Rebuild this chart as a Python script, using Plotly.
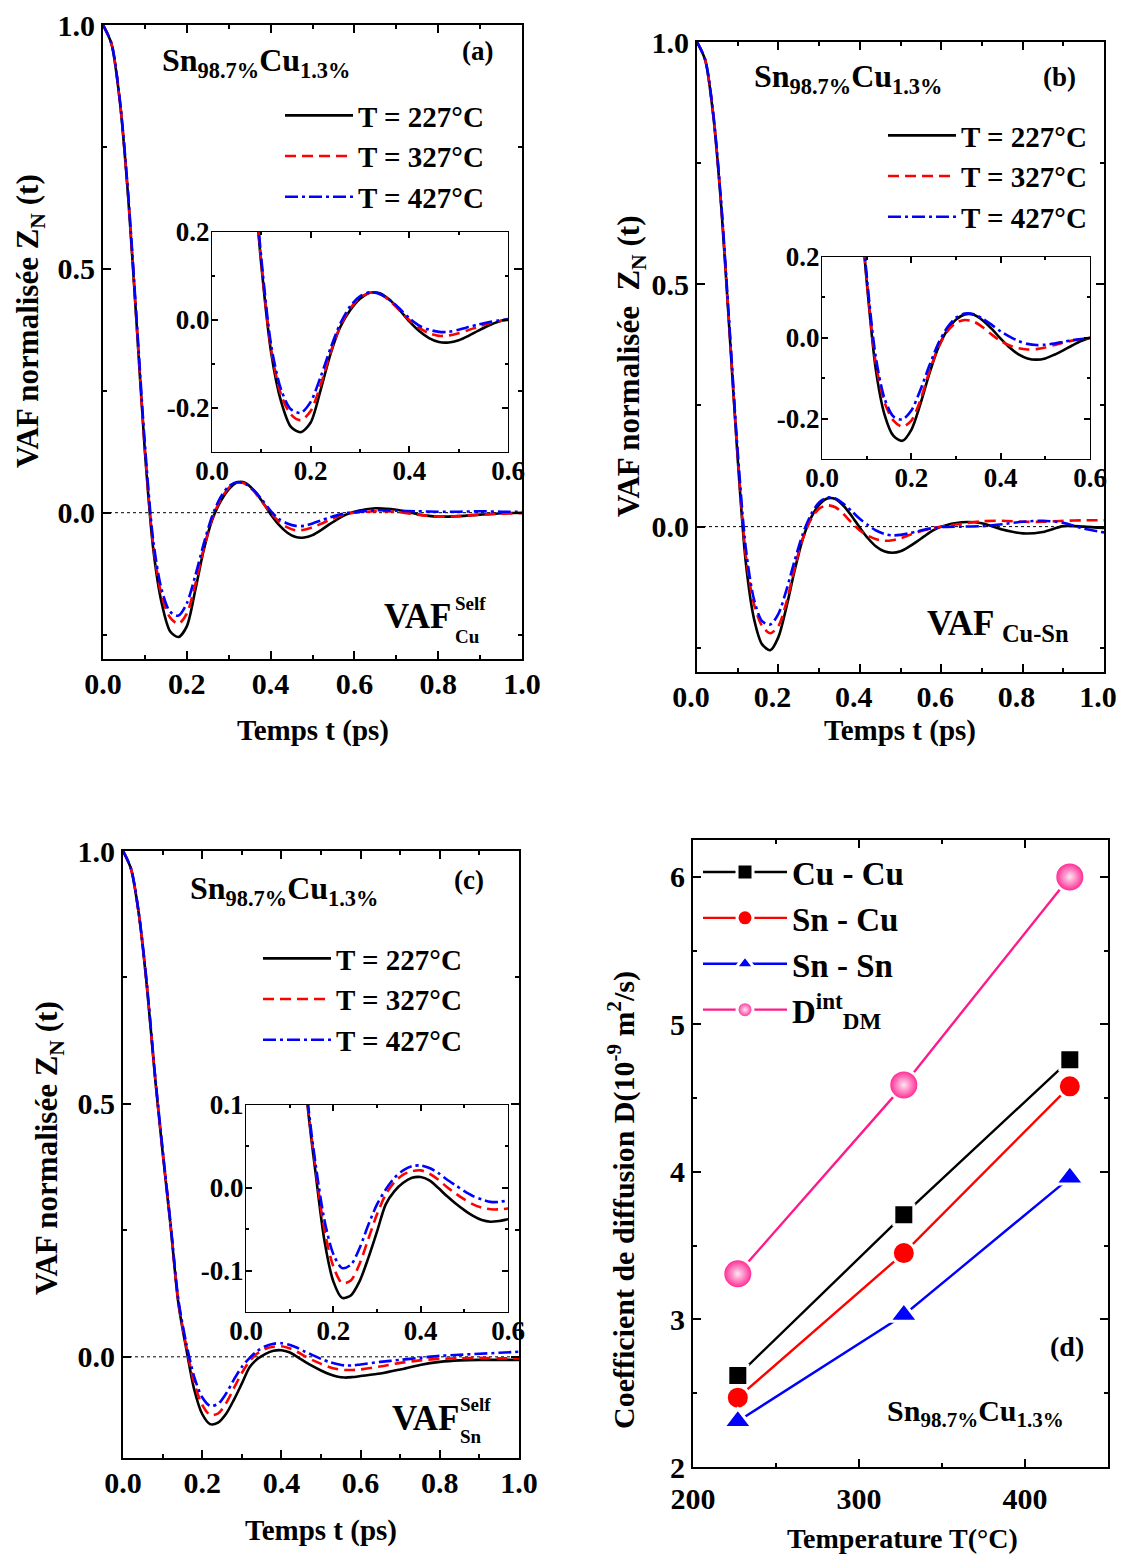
import plotly.graph_objects as go

OFF = 8                      # default page margin of the html body
W, H = 1125 - 2 * OFF, 1562 - 2 * OFF
FONT = "Liberation Serif"

# ---------------- data ----------------
TIME = [0.00, 0.02, 0.04, 0.06, 0.08, 0.10, 0.12, 0.14, 0.16, 0.18, 0.20, 0.22, 0.24, 0.26, 0.28,
        0.30, 0.32, 0.34, 0.36, 0.38, 0.40, 0.42, 0.44, 0.46, 0.48, 0.50, 0.52, 0.54, 0.56, 0.58,
        0.60, 0.65, 0.70, 0.75, 0.80, 0.85, 0.90, 0.95, 1.00]

# (a) VAF self Cu
A_227 = [1.0, 0.962, 0.845, 0.648, 0.39, 0.125, -0.075, -0.185, -0.243, -0.255, -0.233, -0.160, -0.078, -0.016, 0.022,
         0.048, 0.062, 0.061, 0.046, 0.023, -0.003, -0.025, -0.041, -0.050, -0.051, -0.046, -0.036, -0.024, -0.013, -0.004,
         0.002, 0.009, 0.006, -0.003, -0.008, -0.007, -0.004, -0.001, 0.0]
A_327 = [1.0, 0.962, 0.846, 0.650, 0.392, 0.13, -0.068, -0.170, -0.215, -0.228, -0.207, -0.148, -0.075, -0.014, 0.026,
         0.051, 0.062, 0.059, 0.044, 0.022, 0.0, -0.018, -0.030, -0.036, -0.035, -0.030, -0.023, -0.015, -0.008, -0.003,
         0.0, 0.003, 0.002, -0.004, -0.008, -0.007, -0.004, -0.002, -0.001]
A_427 = [1.0, 0.963, 0.848, 0.655, 0.40, 0.14, -0.058, -0.158, -0.203, -0.211, -0.186, -0.130, -0.065, -0.008, 0.031,
         0.054, 0.063, 0.059, 0.046, 0.026, 0.004, -0.013, -0.022, -0.027, -0.027, -0.022, -0.016, -0.010, -0.005, -0.001,
         0.001, 0.005, 0.004, 0.003, 0.002, 0.002, 0.003, 0.002, 0.002]

# (b) VAF Cu-Sn
B_227 = [1.0, 0.963, 0.848, 0.655, 0.40, 0.14, -0.075, -0.190, -0.243, -0.255, -0.228, -0.165, -0.090, -0.025, 0.018,
         0.045, 0.058, 0.057, 0.043, 0.022, -0.002, -0.024, -0.041, -0.051, -0.054, -0.051, -0.042, -0.031, -0.019, -0.008,
         0.0, 0.009, 0.007, -0.006, -0.014, -0.011, 0.001, 0.0, -0.003]
B_327 = [1.0, 0.963, 0.849, 0.658, 0.405, 0.145, -0.060, -0.160, -0.205, -0.220, -0.205, -0.155, -0.085, -0.025, 0.015,
         0.037, 0.044, 0.040, 0.026, 0.008, -0.008, -0.019, -0.026, -0.029, -0.028, -0.024, -0.018, -0.012, -0.007, -0.003,
         0.0, 0.006, 0.011, 0.012, 0.010, 0.010, 0.012, 0.013, 0.013]
B_427 = [1.0, 0.964, 0.852, 0.662, 0.41, 0.155, -0.045, -0.150, -0.195, -0.202, -0.180, -0.130, -0.070, -0.015, 0.025,
         0.050, 0.060, 0.058, 0.047, 0.032, 0.016, 0.003, -0.008, -0.015, -0.018, -0.017, -0.014, -0.010, -0.006, -0.003,
         -0.001, 0.0, 0.001, 0.005, 0.010, 0.012, 0.008, -0.004, -0.012]

# (c) VAF self Sn
C_227 = [1.0, 0.965, 0.875, 0.735, 0.56, 0.405, 0.26, 0.105, 0.015, -0.065, -0.113, -0.133, -0.130, -0.113, -0.085,
         -0.053, -0.020, -0.004, 0.006, 0.012, 0.013, 0.009, 0.0, -0.010, -0.019, -0.027, -0.034, -0.039, -0.041, -0.040,
         -0.038, -0.033, -0.025, -0.016, -0.010, -0.007, -0.006, -0.006, -0.006]
C_327 = [1.0, 0.965, 0.876, 0.737, 0.562, 0.407, 0.262, 0.108, 0.020, -0.052, -0.095, -0.115, -0.112, -0.092, -0.062,
         -0.032, -0.008, 0.007, 0.016, 0.020, 0.021, 0.017, 0.010, 0.001, -0.007, -0.014, -0.020, -0.024, -0.026, -0.026,
         -0.025, -0.019, -0.012, -0.007, -0.004, -0.003, -0.002, -0.003, -0.003]
C_427 = [1.0, 0.966, 0.877, 0.739, 0.565, 0.41, 0.265, 0.112, 0.026, -0.040, -0.080, -0.097, -0.093, -0.073, -0.045,
         -0.020, -0.002, 0.012, 0.021, 0.026, 0.027, 0.024, 0.018, 0.010, 0.003, -0.004, -0.010, -0.014, -0.017, -0.017,
         -0.015, -0.010, -0.006, -0.002, 0.002, 0.004, 0.006, 0.008, 0.010]

SERIES_NAMES = ["T = 227°C", "T = 327°C", "T = 427°C"]

# (d) diffusion coefficients
TEMPS = [227, 327, 427]
D_CUCU = [2.62, 3.71, 4.76]
D_SNCU = [2.47, 3.45, 4.58]
D_SNSN = [2.31, 3.03, 3.96]
D_DM = [3.31, 4.59, 6.00]
D_NAMES = ["Cu - Cu", "Sn - Cu", "Sn - Sn", "D<sup>int</sup><sub>DM</sub>"]

# tick labels
MAIN_X_TV = [0.0, 0.2, 0.4, 0.6, 0.8, 1.0]
MAIN_X_TT = ["0.0", "0.2", "0.4", "0.6", "0.8", "1.0"]
MAIN_Y_TV = [0.0, 0.5, 1.0]
MAIN_Y_TT = ["0.0", "0.5", "1.0"]
INS_X_TV = [0.0, 0.2, 0.4, 0.6]
INS_X_TT = ["0.0", "0.2", "0.4", "0.6"]
INS_Y_TV = [-0.2, 0.0, 0.2]
INS_Y_TT = ["-0.2", "0.0", "0.2"]
INS_C_Y_TV = [-0.1, 0.0, 0.1]
INS_C_Y_TT = ["-0.1", "0.0", "0.1"]
D_X_TV = [200, 300, 400]
D_X_TT = ["200", "300", "400"]
D_Y_TV = [2, 3, 4, 5, 6]
D_Y_TT = ["2", "3", "4", "5", "6"]

# ---------------- helpers (screen px -> paper fraction) ----------------
def px(x):
    return (x - OFF) / W

def py(y):
    return 1 - (y - OFF) / H

def dx(a, b):
    return [px(a), px(b)]

def dy(top, bottom):
    return [py(bottom), py(top)]

COLORS = ["black", "#ff0000", "#0000ff"]
DASHES = ["solid", "11px,6px", "13px,4px,3px,4px"]

fig = go.Figure()

def add_vaf(series, xa, ya, legend, show):
    for i, ys in enumerate(series):
        fig.add_trace(go.Scatter(
            x=TIME, y=ys, mode="lines", name=SERIES_NAMES[i],
            line=dict(color=COLORS[i], width=2.6, dash=DASHES[i], shape="spline", smoothing=0.8),
            xaxis=xa, yaxis=ya, legend=legend, showlegend=show, hoverinfo="skip"))

add_vaf([A_227, A_327, A_427], "x", "y", "legend", True)
add_vaf([A_227, A_327, A_427], "x2", "y2", "legend", False)
add_vaf([B_227, B_327, B_427], "x3", "y3", "legend2", True)
add_vaf([B_227, B_327, B_427], "x4", "y4", "legend2", False)
add_vaf([C_227, C_327, C_427], "x5", "y5", "legend3", True)
add_vaf([C_227, C_327, C_427], "x6", "y6", "legend3", False)

# panel d
d_specs = [
    (D_CUCU, "black", dict(symbol="square", size=20, color="black")),
    (D_SNCU, "#ff0000", dict(symbol="circle", size=23, color="#ff0000")),
    (D_SNSN, "#0000ff", dict(symbol="triangle-up", size=25, color="#0000ff")),
    (D_DM, "#ff1a8c", dict(symbol="circle", size=30, color="#ff1a8c",
                          gradient=dict(type="radial", color="#ffe6f2"))),
]
for (vals, col, mk), nm in zip(d_specs, D_NAMES):
    mk = dict(mk)
    mk["line"] = dict(color="white", width=3)
    fig.add_trace(go.Scatter(
        x=TEMPS, y=vals, mode="lines+markers", name=nm,
        line=dict(color=col, width=2.4), marker=mk,
        xaxis="x7", yaxis="y7", legend="legend4", hoverinfo="skip"))

def axis(domain, rng, tv, tt, mdt, anchor, fsize, lw, tl=8, mtl=4, standoff=0, shift=0):
    return dict(domain=domain, range=rng, tickmode="array", tickvals=tv, ticktext=tt,
                ticks="inside", ticklen=tl, tickwidth=1.5, tickcolor="black",
                showline=True, linecolor="black", linewidth=lw, mirror="allticks",
                minor=dict(ticks="inside", ticklen=mtl, tickwidth=1.5, tickcolor="black",
                           tickmode="linear", tick0=0, dtick=mdt, showgrid=False),
                showgrid=False, zeroline=False, anchor=anchor, automargin=False,
                ticklabelstandoff=standoff, ticklabelshift=shift, ticklabeloverflow="allow",
                tickfont=dict(family=FONT, size=fsize, weight="bold", color="black"))

MF, IF = 30, 27
layout = dict(
    width=W, height=H, margin=dict(l=0, r=0, t=0, b=0, autoexpand=False),
    paper_bgcolor="white", plot_bgcolor="white", showlegend=True,
    xaxis=axis(dx(103, 522), [0, 1], MAIN_X_TV, MAIN_X_TT, 0.1, "y", MF, 2, standoff=-3),
    yaxis=axis(dy(25, 659), [-0.3, 1.0], MAIN_Y_TV, MAIN_Y_TT, 0.25, "x", MF, 2),
    xaxis2=axis(dx(212, 508), [0, 0.6], INS_X_TV, INS_X_TT, 0.1, "y2", IF, 1.2, 6, 3, standoff=-6),
    yaxis2=axis(dy(232, 452), [-0.3, 0.2], INS_Y_TV, INS_Y_TT, 0.1, "x2", IF, 1.2, 6, 3, standoff=-4),
    xaxis3=axis(dx(697, 1104), [0, 1], MAIN_X_TV, MAIN_X_TT, 0.1, "y3", MF, 2, standoff=-3, shift=-6),
    yaxis3=axis(dy(42, 672), [-0.3, 1.0], MAIN_Y_TV, MAIN_Y_TT, 0.25, "x3", MF, 2),
    xaxis4=axis(dx(822, 1090), [0, 0.6], INS_X_TV, INS_X_TT, 0.1, "y4", IF, 1.2, 6, 3, standoff=-6),
    yaxis4=axis(dy(257, 459), [-0.3, 0.2], INS_Y_TV, INS_Y_TT, 0.1, "x4", IF, 1.2, 6, 3, standoff=-4),
    xaxis5=axis(dx(123, 519), [0, 1], MAIN_X_TV, MAIN_X_TT, 0.1, "y5", MF, 2, standoff=-3),
    yaxis5=axis(dy(851, 1458), [-0.2, 1.0], MAIN_Y_TV, MAIN_Y_TT, 0.25, "x5", MF, 2),
    xaxis6=axis(dx(246, 508), [0, 0.6], INS_X_TV, INS_X_TT, 0.1, "y6", IF, 1.2, 6, 3, standoff=-6),
    yaxis6=axis(dy(1105, 1312), [-0.15, 0.1], INS_C_Y_TV, INS_C_Y_TT, 0.05, "x6", IF, 1.2, 6, 3, standoff=-4),
    xaxis7=axis(dx(693, 1108), [200, 450], D_X_TV, D_X_TT, 50, "y7", MF, 2, standoff=4),
    yaxis7=axis(dy(840, 1467), [2, 6.25], D_Y_TV, D_Y_TT, 0.5, "x7", MF, 2),
)

def leg(x, y, size, iw):
    return dict(x=px(x), y=py(y), xanchor="left", yanchor="top",
                font=dict(family=FONT, size=size, weight="bold", color="black"),
                bgcolor="rgba(0,0,0,0)", borderwidth=0, itemwidth=iw,
                traceorder="normal", tracegroupgap=0)

layout["legend"] = leg(280, 90, 29, 68)
layout["legend2"] = leg(883, 110, 29, 68)
layout["legend3"] = leg(258, 933, 29, 68)
layout["legend4"] = leg(698, 844, 33, 84)
fig.update_layout(**layout)

# zero reference lines
for xa, ya in [("x", "y"), ("x2", "y2"), ("x3", "y3"), ("x4", "y4"), ("x5", "y5"), ("x6", "y6")]:
    fig.add_shape(type="line", xref=f"{xa} domain", x0=0, x1=1, yref=ya, y0=0, y1=0,
                  line=dict(color="black", width=1, dash="dot"), layer="below")

def ann(text, x, y, size, xanchor="left", yanchor="middle", angle=0):
    fig.add_annotation(text=text, x=px(x), y=py(y), xref="paper", yref="paper",
                       xanchor=xanchor, yanchor=yanchor, textangle=angle, showarrow=False,
                       font=dict(family=FONT, size=size, weight="bold", color="black"))

ALLOY = "Sn<sub>98.7%</sub>Cu<sub>1.3%</sub>"
YT = "VAF normalisée Z<sub>N</sub> (t)"
# panel a
ann(ALLOY, 160, 62, 32)
ann("(a)", 477, 51, 27, "center")
ann("VAF", 382, 617, 35)
ann("Self", 453, 603, 19)
ann("Cu", 453, 636, 19)
ann(YT, 30, 321, 31, "center", "middle", -90)
ann("Temps t (ps)", 313, 730, 29, "center")
# panel b
ann(ALLOY, 752, 79, 32)
ann("(b)", 1059, 77, 27, "center")
ann("VAF <sub>Cu-Sn</sub>", 925, 625, 35)
ann("VAF normalisée  Z<sub>N</sub> (t)", 631, 366, 31, "center", "middle", -90)
ann("Temps t (ps)", 900, 730, 29, "center")
# panel c
ann(ALLOY, 188, 891, 32)
ann("(c)", 469, 880, 27, "center")
ann("VAF", 390, 1418, 35)
ann("Self", 458, 1404, 19)
ann("Sn", 458, 1436, 19)
ann(YT, 49, 1148, 31, "center", "middle", -90)
ann("Temps t (ps)", 321, 1530, 29, "center")
# panel d
ann("(d)", 1067, 1346, 28, "center")
ann(ALLOY, 885, 1413, 30)
ann("Coefficient de diffusion D(10<sup>-9</sup> m<sup>2</sup>/s)", 621, 1200, 30, "center", "middle", -90)
ann("Temperature T(°C)", 902, 1538, 28, "center")

fig.write_html("out.html")
